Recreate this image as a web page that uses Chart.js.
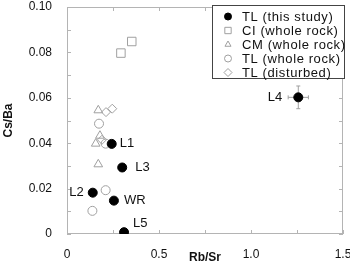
<!DOCTYPE html>
<html>
<head>
<meta charset="utf-8">
<script src="https://cdn.jsdelivr.net/npm/chart.js@4/dist/chart.umd.min.js"></script>
<style>
  html, body { margin: 0; padding: 0; background: #fff; }
  #wrap { width: 350px; height: 273px; }
</style>
</head>
<body>
<div id="wrap"><canvas id="c"></canvas></div>
<script>
// TL (this study)
var tlNames = ['L1', 'L2', 'L3', 'L4', 'L5', 'WR'];
var tlRbSr = [0.243, 0.14, 0.30, 1.257, 0.31, 0.255];
var tlCsBa = [0.0397, 0.0182, 0.0293, 0.0602, 0.0008, 0.0147];
var tlRbSrErr = [0, 0, 0, 0.055, 0, 0];
var tlCsBaErr = [0, 0, 0, 0.005, 0, 0];
// CI (whole rock)
var ciRbSr = [0.293, 0.352];
var ciCsBa = [0.0797, 0.0848];
// CM (whole rock)
var cmRbSr = [0.17, 0.179, 0.156, 0.17];
var cmCsBa = [0.0545, 0.0433, 0.0398, 0.0307];
// TL (whole rock)
var wrRbSr = [0.174, 0.21, 0.21, 0.138];
var wrCsBa = [0.0486, 0.0398, 0.0193, 0.0102];
// TL (disturbed)
var dsRbSr = [0.212, 0.246, 0.19];
var dsCsBa = [0.0537, 0.0552, 0.0415];

var xTickLabels = {0: '0', 0.5: '0.5', 1: '1.0', 1.5: '1.5'};
var legendNames = ['TL (this study)', 'CI (whole rock)', 'CM (whole rock)', 'TL (whole rock)', 'TL (disturbed)'];

// label offsets (px) and alignment for TL points
var labelPos = {
  L1: [8, 0, 'left'], L2: [-9, 0, 'right'], L3: [13, 0, 'left'],
  L4: [-16, 0, 'right'], L5: [9, -9, 'left'], WR: [10, 0, 'left']
};

function pts(xs, ys) {
  return xs.map(function (x, i) { return {x: x, y: ys[i]}; });
}

var FONT = '"Liberation Sans", Arial, sans-serif';
var GRAY = '#a0a0a0';

var extras = {
  id: 'extras',
  beforeDatasetsDraw(chart) {
    var ctx = chart.ctx, xs = chart.scales.x, ys = chart.scales.y, a = chart.chartArea;
    ctx.save();
    // frame
    ctx.strokeStyle = '#b4b4b4';
    ctx.lineWidth = 1;
    ctx.strokeRect(a.left + 0.5, a.top + 0.5, a.right - a.left - 1, a.bottom - a.top - 1);
    // inward ticks
    ctx.beginPath();
    for (var v = 0; v <= 1.5001; v += 0.25) {
      var px = Math.round(xs.getPixelForValue(v)) + 0.5;
      ctx.moveTo(px, a.bottom); ctx.lineTo(px, a.bottom - 4);
      ctx.moveTo(px, a.top); ctx.lineTo(px, a.top + 4);
    }
    for (var w = 0; w <= 0.1001; w += 0.01) {
      var py = Math.round(ys.getPixelForValue(w)) + 0.5;
      ctx.moveTo(a.left, py); ctx.lineTo(a.left + 4, py);
      ctx.moveTo(a.right, py); ctx.lineTo(a.right - 4, py);
    }
    ctx.stroke();
    // error bars
    ctx.strokeStyle = GRAY;
    ctx.beginPath();
    tlRbSr.forEach(function (x, i) {
      var cx = xs.getPixelForValue(x), cy = ys.getPixelForValue(tlCsBa[i]);
      if (tlRbSrErr[i]) {
        var x1 = xs.getPixelForValue(x - tlRbSrErr[i]), x2 = xs.getPixelForValue(x + tlRbSrErr[i]);
        ctx.moveTo(x1, cy); ctx.lineTo(x2, cy);
        ctx.moveTo(x1, cy - 2); ctx.lineTo(x1, cy + 2);
        ctx.moveTo(x2, cy - 2); ctx.lineTo(x2, cy + 2);
      }
      if (tlCsBaErr[i]) {
        var y1 = ys.getPixelForValue(tlCsBa[i] - tlCsBaErr[i]), y2 = ys.getPixelForValue(tlCsBa[i] + tlCsBaErr[i]);
        ctx.moveTo(cx, y1); ctx.lineTo(cx, y2);
        ctx.moveTo(cx - 2, y1); ctx.lineTo(cx + 2, y1);
        ctx.moveTo(cx - 2, y2); ctx.lineTo(cx + 2, y2);
      }
    });
    ctx.stroke();
    ctx.restore();
  },
  afterDraw(chart) {
    var ctx = chart.ctx, xs = chart.scales.x, ys = chart.scales.y, a = chart.chartArea;
    ctx.save();
    // point labels
    ctx.fillStyle = '#111';
    ctx.font = '13px ' + FONT;
    ctx.textBaseline = 'middle';
    tlNames.forEach(function (n, i) {
      var p = labelPos[n];
      ctx.textAlign = p[2];
      ctx.fillText(n, xs.getPixelForValue(tlRbSr[i]) + p[0], ys.getPixelForValue(tlCsBa[i]) + p[1]);
    });
    // legend box
    var lx = a.right - 131, ly = a.top - 2, lw = 133, lh = 74;
    ctx.fillStyle = '#fff';
    ctx.fillRect(lx, ly, lw, lh);
    ctx.strokeStyle = '#444';
    ctx.lineWidth = 1;
    ctx.strokeRect(lx + 0.5, ly + 0.5, lw - 1, lh - 1);
    ctx.textAlign = 'left';
    ctx.letterSpacing = '0.6px';
    chart.data.datasets.forEach(function (ds, i) {
      var my = ly + 11.5 + i * 14;
      ctx.fillStyle = ds.backgroundColor;
      ctx.strokeStyle = ds.borderColor;
      ctx.lineWidth = 1;
      Chart.helpers.drawPoint(ctx, {
        pointStyle: ds.pointStyle, radius: ds.legendRadius, borderWidth: 1
      }, lx + 16, my);
      ctx.fillStyle = '#111';
      ctx.fillText(legendNames[i], lx + 30, my + 0.5);
    });
    ctx.restore();
  }
};

new Chart(document.getElementById('c'), {
  type: 'scatter',
  data: {
    datasets: [
      { label: legendNames[0], data: pts(tlRbSr, tlCsBa), pointStyle: 'circle', pointRadius: 4.5,
        backgroundColor: '#000', borderColor: '#000', borderWidth: 1, legendRadius: 3.5 },
      { label: legendNames[1], data: pts(ciRbSr, ciCsBa), pointStyle: 'rect', pointRadius: 6,
        backgroundColor: 'rgba(0,0,0,0)', borderColor: GRAY, borderWidth: 1, legendRadius: 4.5 },
      { label: legendNames[2], data: pts(cmRbSr, cmCsBa), pointStyle: 'triangle', pointRadius: 5,
        backgroundColor: 'rgba(0,0,0,0)', borderColor: GRAY, borderWidth: 1, legendRadius: 3.5 },
      { label: legendNames[3], data: pts(wrRbSr, wrCsBa), pointStyle: 'circle', pointRadius: 4.5,
        backgroundColor: 'rgba(0,0,0,0)', borderColor: GRAY, borderWidth: 1, legendRadius: 3.5 },
      { label: legendNames[4], data: pts(dsRbSr, dsCsBa), pointStyle: 'rectRot', pointRadius: 4.5,
        backgroundColor: 'rgba(0,0,0,0)', borderColor: GRAY, borderWidth: 1, legendRadius: 4 }
    ]
  },
  options: {
    responsive: true,
    maintainAspectRatio: false,
    animation: false,
    events: [],
    layout: { padding: { top: 6, right: 7, left: 0, bottom: 0 } },
    plugins: { legend: { display: false }, tooltip: { enabled: false } },
    scales: {
      x: {
        type: 'linear', min: 0, max: 1.5,
        grid: { display: false },
        border: { display: false },
        ticks: {
          stepSize: 0.25, autoSkip: false, maxRotation: 0, padding: 5, color: '#111',
          font: { family: FONT, size: 12 },
          callback: function (v) { return xTickLabels[v] !== undefined ? xTickLabels[v] : ''; }
        },
        title: { display: true, text: 'Rb/Sr', color: '#111', font: { family: FONT, size: 12, weight: 'bold' },
          padding: { top: 0, bottom: 8 } },
        afterFit: function (s) { s.height = 39; s.paddingLeft = 0; s.paddingRight = 0; }
      },
      y: {
        type: 'linear', min: 0, max: 0.1,
        grid: { display: false },
        border: { display: false },
        ticks: {
          stepSize: 0.02, padding: 7, color: '#111',
          font: { family: FONT, size: 12 },
          callback: function (v) { return v === 0 ? '0' : v.toFixed(2); }
        },
        title: { display: true, text: 'Cs/Ba', color: '#111', font: { family: FONT, size: 12, weight: 'bold' },
          padding: { top: 1, bottom: 0 } },
        afterFit: function (s) { s.width = 67; s.paddingTop = 0; s.paddingBottom = 0; }
      }
    }
  },
  plugins: [extras]
});
</script>
</body>
</html>
